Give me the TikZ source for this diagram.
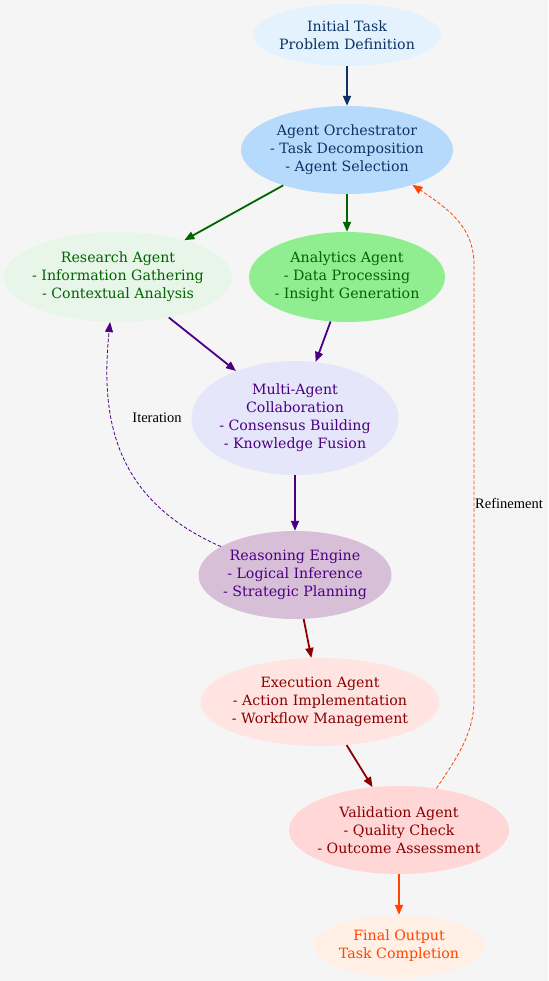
\documentclass[tikz,border=0pt]{standalone}
\usepackage{fontspec}
\setmainfont{DejaVu Serif}
\newfontfamily\lblfont{Liberation Serif}
\usetikzlibrary{shapes.geometric,arrows.meta}
\definecolor{bg}{HTML}{F5F5F5}
\definecolor{navy}{HTML}{0B3366}
\definecolor{dgreen}{HTML}{006400}
\definecolor{indigo}{HTML}{4B0082}
\definecolor{dred}{HTML}{8B0000}
\definecolor{ored}{HTML}{FF4500}
\definecolor{fInit}{HTML}{E3F2FD}
\definecolor{fOrch}{HTML}{B5DAFB}
\definecolor{fRes}{HTML}{E8F5E9}
\definecolor{fAna}{HTML}{90EE90}
\definecolor{fMulti}{HTML}{E6E6FA}
\definecolor{fReas}{HTML}{D8BFD8}
\definecolor{fExec}{HTML}{FFE4E1}
\definecolor{fVal}{HTML}{FFD7D7}
\definecolor{fFin}{HTML}{FFEFE4}
\begin{document}
\begin{tikzpicture}[x=1pt,y=-1pt,
  agent/.style={ellipse, inner sep=0pt},
  agenttext/.style={align=center, inner sep=0pt, font=\fontsize{14.2}{18}\selectfont},
  flow/.style={line width=1.8pt, -{Triangle[length=10pt,width=8pt]}},
  fback/.style={line width=0.8pt, dash pattern=on 3.5pt off 2pt, -{Triangle[length=10pt,width=8pt]}},
  lbl/.style={font=\lblfont\fontsize{14.5}{16}\selectfont, text=black, inner sep=0pt}]
\fill[bg] (0,0) rectangle (548,981);
\useasboundingbox (0,0) rectangle (548,981);

\node[agent, fill=fInit, minimum width=188pt, minimum height=62pt,
  label={[agenttext, text=navy]center:Initial Task\\Problem Definition}] (init) at (347,35) {};
\node[agent, fill=fOrch, minimum width=212pt, minimum height=88pt,
  label={[agenttext, text=navy]center:Agent Orchestrator\\- Task Decomposition\\- Agent Selection}] (orch) at (347,150) {};
\node[agent, fill=fRes, minimum width=228pt, minimum height=90pt,
  label={[agenttext, text=dgreen]center:Research Agent\\- Information Gathering\\- Contextual Analysis}] (res) at (118,277) {};
\node[agent, fill=fAna, minimum width=196pt, minimum height=90pt,
  label={[agenttext, text=dgreen]center:Analytics Agent\\- Data Processing\\- Insight Generation}] (ana) at (347,277) {};
\node[agent, fill=fMulti, minimum width=207pt, minimum height=114pt,
  label={[agenttext, text=indigo]center:Multi-Agent\\Collaboration\\- Consensus Building\\- Knowledge Fusion}] (multi) at (295,418) {};
\node[agent, fill=fReas, minimum width=193pt, minimum height=88pt,
  label={[agenttext, text=indigo]center:Reasoning Engine\\- Logical Inference\\- Strategic Planning}] (reas) at (295,575) {};
\node[agent, fill=fExec, minimum width=239pt, minimum height=88pt,
  label={[agenttext, text=dred]center:Execution Agent\\- Action Implementation\\- Workflow Management}] (exec) at (320,702) {};
\node[agent, fill=fVal, minimum width=220pt, minimum height=88pt,
  label={[agenttext, text=dred]center:Validation Agent\\- Quality Check\\- Outcome Assessment}] (val) at (399,830) {};
\node[agent, fill=fFin, minimum width=171pt, minimum height=62pt,
  label={[agenttext, text=ored]center:Final Output\\Task Completion}] (fin) at (399,946) {};

\draw[flow, navy] (init) -- (orch);
\draw[flow, dgreen] (orch) -- (res);
\draw[flow, dgreen] (orch) -- (ana);
\draw[flow, indigo] (res) -- (multi);
\draw[flow, indigo] (ana) -- (multi);
\draw[flow, indigo] (multi) -- (reas);
\draw[flow, dred] (reas) -- (exec);
\draw[flow, dred] (exec) -- (val);
\draw[flow, ored] (val) -- (fin);

\draw[fback, indigo] (reas.159.5) .. controls (115,500) and (100,420) .. (res.260);
\node[lbl] (iterlbl) at (157,418) {Iteration};

\draw[fback, ored] (val.48) .. controls (455,760) and (474,735) .. (474,700)
  -- (474,265) .. controls (474,228) and (450,210) .. (orch.-28);
\node[lbl, anchor=west] (reflbl) at (475,503) {Refinement};
\end{tikzpicture}
\end{document}
